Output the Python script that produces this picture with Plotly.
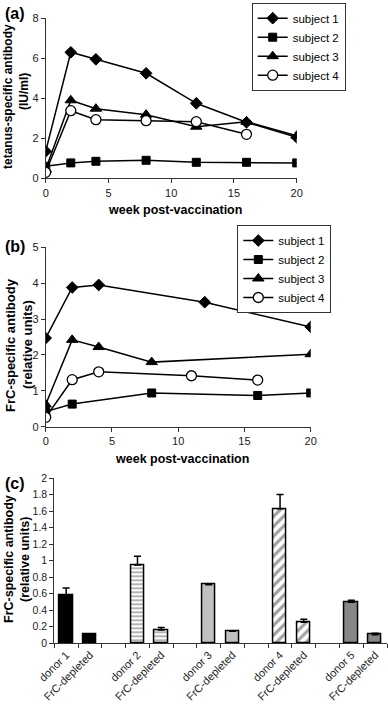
import plotly.graph_objects as go

# ---------------- Data ----------------
# Panel (a): tetanus-specific antibody (IU/ml)
a_weeks_s1 = [0, 2, 4, 8, 12, 16, 20]
a_s1 = [1.35, 6.3, 5.95, 5.25, 3.75, 2.8, 2.05]
a_weeks_s2 = [0, 2, 4, 8, 12, 16, 20]
a_s2 = [0.6, 0.77, 0.85, 0.9, 0.8, 0.8, 0.77]
a_weeks_s3 = [0, 2, 4, 8, 12, 16, 20]
a_s3 = [0.45, 3.9, 3.48, 3.18, 2.58, 2.83, 2.13]
a_weeks_s4 = [0, 2, 4, 8, 12, 16]
a_s4 = [0.3, 3.38, 2.93, 2.88, 2.83, 2.2]

# Panel (b): FrC-specific antibody (relative units)
b_weeks_s1 = [0, 2, 4, 12, 20]
b_s1 = [2.47, 3.88, 3.95, 3.47, 2.78]
b_weeks_s2 = [0, 2, 8, 16, 20]
b_s2 = [0.42, 0.63, 0.94, 0.87, 0.94]
b_weeks_s3 = [0, 2, 4, 8, 20]
b_s3 = [0.62, 2.42, 2.22, 1.8, 2.02]
b_weeks_s4 = [0, 2, 4, 11, 16]
b_s4 = [0.26, 1.31, 1.53, 1.42, 1.3]

subjects = ["subject 1", "subject 2", "subject 3", "subject 4"]

# Panel (c): categories (empty strings are spacing slots)
c_categories = ["donor 1", "FrC-depleted", "", "donor 2", "FrC-depleted", "",
                "donor 3", "FrC-depleted", "", "donor 4", "FrC-depleted", "",
                "donor 5", "FrC-depleted"]
c_values = [0.58, 0.11, 0.95, 0.16, 0.71, 0.145, 1.63, 0.255, 0.497, 0.105]
c_errors = [0.09, 0.0, 0.105, 0.03, 0.01, 0.0, 0.175, 0.036, 0.024, 0.016]

# ---------------- Styles ----------------
W, H = 388, 705
FONT = "Liberation Sans, Arial, sans-serif"
BLACK = "#000000"
TICKC = "#222222"

def px_x(x):
    return x / W

def px_y(y):
    return (H - y) / H

fig = go.Figure()

styles = [
    dict(symbol="diamond", size=9, color=BLACK, line=dict(color=BLACK, width=1)),
    dict(symbol="square", size=8, color=BLACK, line=dict(color=BLACK, width=1)),
    dict(symbol="triangle-up", size=10, color=BLACK, line=dict(color=BLACK, width=1)),
    dict(symbol="circle", size=10, color="white", line=dict(color=BLACK, width=1.3)),
]

a_sets = [(a_weeks_s1, a_s1), (a_weeks_s2, a_s2), (a_weeks_s3, a_s3), (a_weeks_s4, a_s4)]
b_sets = [(b_weeks_s1, b_s1), (b_weeks_s2, b_s2), (b_weeks_s3, b_s3), (b_weeks_s4, b_s4)]

for name, (xs, ys), st in zip(subjects, a_sets, styles):
    fig.add_trace(go.Scatter(x=xs, y=ys, name=name, mode="lines+markers",
                             line=dict(color=BLACK, width=1.5), marker=st,
                             xaxis="x", yaxis="y", legend="legend"))
for name, (xs, ys), st in zip(subjects, b_sets, styles):
    fig.add_trace(go.Scatter(x=xs, y=ys, name=name, mode="lines+markers",
                             line=dict(color=BLACK, width=1.5), marker=st,
                             xaxis="x2", yaxis="y2", legend="legend2"))

# Panel (c) bars
bar_pos = [i for i, c in enumerate(c_categories) if c]
label_pos = bar_pos
donor_fill = ["#000000", "white", "#c0c0c0", "white", "#878787"]
donor_shape = ["", "-", "", "/", ""]
fills = [f for f in donor_fill for _ in range(2)]
shapes = [s for s in donor_shape for _ in range(2)]
sizes = [4 if s == "-" else 7 for s in shapes]
solid = [0.4 if s == "-" else 0.45 for s in shapes]

fig.add_trace(go.Bar(
    x=bar_pos, y=c_values, width=0.56, showlegend=False,
    marker=dict(color=fills, line=dict(color=BLACK, width=1.5),
                pattern=dict(shape=shapes, fgcolor=BLACK, bgcolor=fills,
                             size=sizes, solidity=solid, fillmode="overlay")),
    error_y=dict(type="data", array=c_errors, arrayminus=[0] * len(c_errors),
                 symmetric=False, color=BLACK, thickness=1.5, width=3.5),
    xaxis="x3", yaxis="y3"))

axis_common = dict(showline=True, linecolor="#333333", linewidth=1, ticks="outside",
                   ticklen=4, tickcolor="#333333", showgrid=False, zeroline=False,
                   automargin=False,
                   tickfont=dict(family=FONT, size=11, color=TICKC))

fig.update_layout(
    width=W, height=H, margin=dict(l=0, r=0, t=0, b=0, autoexpand=False),
    paper_bgcolor="white", plot_bgcolor="white",
    font=dict(family=FONT, color=BLACK),
    xaxis=dict(domain=[px_x(45.7), px_x(296.7)], range=[0, 20], dtick=5,
               anchor="y", **axis_common),
    yaxis=dict(domain=[px_y(178.3), px_y(18.3)], range=[0, 8], dtick=2,
               anchor="x", **axis_common),
    xaxis2=dict(domain=[px_x(45.7), px_x(310.7)], range=[0, 20], dtick=5,
                anchor="y2", **axis_common),
    yaxis2=dict(domain=[px_y(426.7), px_y(247.3)], range=[0, 5], dtick=1,
                anchor="x2", **axis_common),
    xaxis3=dict(domain=[px_x(54.3), px_x(387)], range=[-0.5, 13.5],
                anchor="y3", showline=True, linecolor="#333333", linewidth=1,
                ticks="", showgrid=False, zeroline=False, automargin=False,
                tickmode="array", tickvals=label_pos,
                ticktext=[c_categories[i] for i in label_pos],
                tickangle=-45, tickfont=dict(family=FONT, size=11, color=TICKC),
                minor=dict(tickmode="array",
                           tickvals=[i - 0.5 for i in range(len(c_categories) + 1)],
                           ticks="outside", ticklen=4, tickcolor="#333333",
                           showgrid=False)),
    yaxis3=dict(domain=[px_y(643.3), px_y(478.3)], range=[0, 2], dtick=0.2,
                anchor="x3", showline=True, linecolor="#333333", linewidth=1,
                ticks="outside", ticklen=4, tickcolor="#333333", showgrid=False,
                zeroline=False, automargin=False,
                tickfont=dict(family=FONT, size=10.5, color=TICKC)),
    legend=dict(x=px_x(251.7), y=px_y(2.7), xanchor="left", yanchor="top",
                bordercolor="#333333", borderwidth=1, bgcolor="white",
                font=dict(family=FONT, size=11.5, color=BLACK), itemwidth=30,
                tracegroupgap=0),
    legend2=dict(x=px_x(237.3), y=px_y(225), xanchor="left", yanchor="top",
                 bordercolor="#333333", borderwidth=1, bgcolor="white",
                 font=dict(family=FONT, size=11.5, color=BLACK), itemwidth=30,
                 tracegroupgap=0),
    bargap=0,
)

ann = [
    dict(text="<b>(a)</b>", x=15, y=13, size=16, angle=0),
    dict(text="<b>(b)</b>", x=15, y=247, size=16, angle=0),
    dict(text="<b>(c)</b>", x=15, y=483, size=16, angle=0),
    dict(text="<b>tetanus-specific antibody</b>", x=8, y=97, size=12, angle=-90),
    dict(text="<b>(IU/ml)</b>", x=24, y=92, size=12, angle=-90),
    dict(text="<b>FrC-specific antibody</b>", x=10, y=345, size=13, angle=-90),
    dict(text="<b>(relative units)</b>", x=27, y=345, size=13, angle=-90),
    dict(text="<b>FrC-specific antibody</b>", x=9, y=559, size=12.5, angle=-90),
    dict(text="<b>(relative units)</b>", x=25, y=559, size=12.5, angle=-90),
    dict(text="<b>week post-vaccination</b>", x=175, y=210, size=12.5, angle=0),
    dict(text="<b>week post-vaccination</b>", x=182, y=459, size=12.5, angle=0),
]
for a in ann:
    fig.add_annotation(text=a["text"], x=px_x(a["x"]), y=px_y(a["y"]), xref="paper",
                       yref="paper", xanchor="center", yanchor="middle",
                       showarrow=False, textangle=a["angle"],
                       font=dict(family=FONT, size=a["size"], color=BLACK))

fig.write_html("out.html", config={"displayModeBar": False},
               post_script="document.body.style.margin='0';document.body.style.overflow='hidden';")
